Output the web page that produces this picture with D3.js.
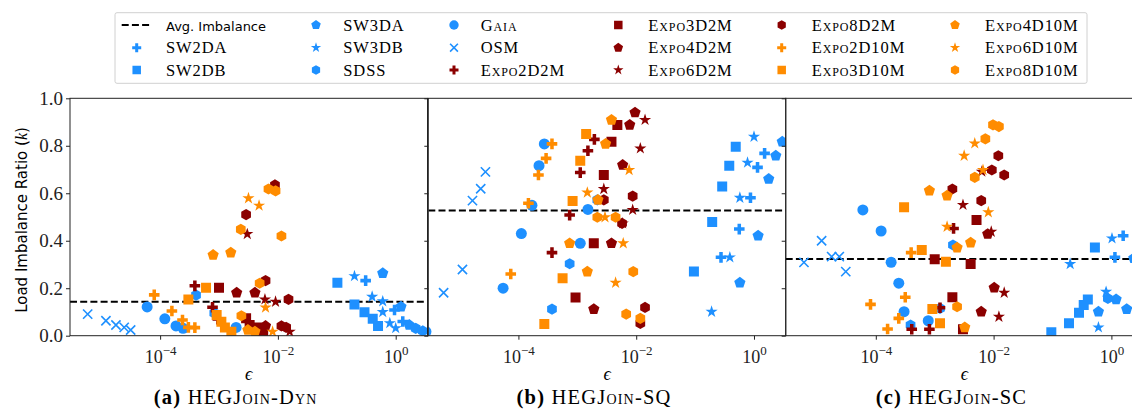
<!DOCTYPE html>
<html>
<head>
<meta charset="utf-8">
<script src="https://cdn.jsdelivr.net/npm/d3@7"></script>
<style>
  body { margin: 0; background: #fff; }
  svg { display: block; }
  .serif { font-family: "Liberation Serif", "DejaVu Serif", serif; }
  .sans { font-family: "DejaVu Sans", "Liberation Sans", sans-serif; }
  .sc { font-variant: small-caps; }
</style>
</head>
<body>
<div id="chart"></div>
<script>
// values: [log10(epsilon), k] per panel (a, b, c)
var SW2DA = [
  [[-0.51,0.232],[-0.02,0.108],[0.12,0.06]],
  [[-0.56,0.33],[-0.25,0.449],[-0.06,0.581],[0.06,0.709],[0.18,0.768]],
  [[0.06,0.33],[0.20,0.421]]
];
var SW2DB = [
  [[-0.99,0.223],[-0.70,0.131],[-0.53,0.099],[-0.39,0.071],[-0.30,0.041]],
  [[-1.02,0.27],[-0.71,0.479],[-0.54,0.629],[-0.42,0.716],[-0.31,0.796]],
  [[-1.02,0.015],[-0.72,0.052],[-0.55,0.097],[-0.47,0.129],[-0.40,0.153],[-0.28,0.371]]
];
var SW3DA = [
  [[-0.22,0.263],[0.09,0.122],[0.23,0.045]],
  [[-0.24,0.223],[0.07,0.421],[0.25,0.66],[0.37,0.758],[0.48,0.817]],
  [[-0.22,0.101],[0.08,0.153],[0.26,0.112],[0.38,0.326]]
];
var SW3DB = [
  [[-0.70,0.251],[-0.40,0.164],[-0.22,0.145],[-0.22,0.10],[-0.10,0.053],[0.0,0.032]],
  [[-0.72,0.101],[-0.41,0.33],[-0.24,0.581],[-0.11,0.729],[0.0,0.838]],
  [[-0.70,0.302],[-0.22,0.035],[-0.09,0.185],[0.01,0.41]]
];
var SDSS = [
  [[-3.39,0.171],[-3.08,0.095],[0.34,0.031],[0.46,0.02]],
  [[-3.43,0.112],[-3.13,0.303],[-2.66,0.572]],
  [[-3.41,0.045],[-2.91,0.115],[-2.69,0.382],[-0.06,0.157]]
];
var Gaia = [
  [[-4.22,0.121],[-3.92,0.071],[-3.73,0.041],[-3.61,0.031],[-2.71,0.035]],
  [[-5.57,0.017],[-4.26,0.20],[-3.95,0.43],[-3.77,0.549],[-3.65,0.716],[-3.56,0.808],[-2.95,0.389],[-2.82,0.532]],
  [[-4.22,0.53],[-3.91,0.441],[-3.74,0.309],[-3.61,0.221],[-3.52,0.101],[-3.11,0.063]]
];
var OSM = [
  [[-5.23,0.091],[-4.92,0.063],[-4.75,0.045],[-4.61,0.035],[-4.50,0.024]],
  [[-5.27,0.181],[-4.95,0.279],[-4.78,0.569],[-4.64,0.619],[-4.56,0.69]],
  [[-5.22,0.309],[-4.92,0.40],[-4.75,0.333],[-4.62,0.333],[-4.51,0.27]]
];
var Expo2D2M = [
  [[-3.41,0.21],[-3.11,0.12],[-3.02,0.07]],
  [[-3.43,0.35],[-3.13,0.508],[-2.95,0.687],[-2.82,0.779],[-2.71,0.827]],
  [[-3.39,0.027],[-3.09,0.027],[-2.91,0.118],[-2.68,0.452]]
];
var Expo3D2M = [
  [[-3.0,0.202],[-2.54,0.073],[-2.48,0.045],[-2.34,0.035],[-2.25,0.017]],
  [[-3.03,0.161],[-2.72,0.389],[-2.55,0.677],[-2.42,0.817],[-2.32,0.888]],
  [[-3.0,0.322],[-2.70,0.162],[-2.52,0.027],[-2.39,0.302],[-2.29,0.487]]
];
var Expo4D2M = [
  [[-2.70,0.181],[-2.39,0.181],[-2.21,0.041]],
  [[-2.72,0.112],[-2.42,0.389],[-2.23,0.719],[-2.11,0.888],[-2.02,0.94]],
  [[-2.21,0.101],[-1.99,0.202],[-2.10,0.428]]
];
var Expo6D2M = [
  [[-2.52,0.428],[-2.22,0.153],[-2.04,0.143],[-1.80,0.017]],
  [[-2.55,0.618],[-2.23,0.473],[-2.06,0.53],[-1.93,0.789],[-1.85,0.909]],
  [[-2.52,0.551],[-2.04,0.438],[-1.82,0.181],[-1.91,0.08],[-2.20,0.691]]
];
var Expo8D2M = [
  [[-2.54,0.51],[-2.05,0.635],[-2.21,0.232],[-1.82,0.153],[-1.94,0.041],[-1.86,0.035]],
  [[-2.55,0.572],[-2.24,0.473],[-2.06,0.588],[-1.93,0.052],[-1.85,0.119]],
  [[-2.70,0.618],[-2.21,0.569],[-2.03,0.698],[-1.92,0.758],[-1.82,0.677]]
];
var Expo2D10M = [
  [[-4.10,0.172],[-3.80,0.104],[-3.62,0.066],[-3.52,0.035],[-3.41,0.034]],
  [[-4.13,0.26],[-3.83,0.558],[-3.66,0.677],[-3.53,0.747],[-3.43,0.808]],
  [[-4.09,0.132],[-3.80,0.028],[-3.61,0.073],[-3.50,0.162],[-3.40,0.35]]
];
var Expo3D10M = [
  [[-3.52,0.153],[-3.22,0.202],[-3.04,0.087],[-2.96,0.059],[-2.90,0.035],[-2.79,0.017]],
  [[-3.56,0.049],[-3.25,0.242],[-3.08,0.567],[-2.95,0.737],[-2.85,0.85]],
  [[-3.52,0.541],[-3.22,0.361],[-3.04,0.112],[-2.91,0.052],[-2.81,0.312]]
];
var Expo4D10M = [
  [[-3.10,0.34],[-2.80,0.35],[-2.51,0.024],[-2.39,0.017]],
  [[-3.13,0.389],[-2.83,0.27],[-2.65,0.572],[-2.52,0.808],[-2.42,0.909]],
  [[-3.09,0.611],[-2.79,0.59],[-2.62,0.371],[-2.39,0.392],[-2.49,0.035]]
];
var Expo6D10M = [
  [[-2.50,0.579],[-2.32,0.548],[-2.21,0.119],[-2.09,0.017]],
  [[-2.83,0.603],[-2.53,0.499],[-2.35,0.223],[-2.22,0.389],[-2.12,0.698]],
  [[-2.79,0.459],[-2.50,0.758],[-2.32,0.81],[-2.18,0.698],[-2.09,0.52]]
];
var Expo8D10M = [
  [[-2.63,0.448],[-2.16,0.618],[-2.04,0.61],[-1.94,0.42],[-2.31,0.221],[-2.62,0.084]],
  [[-2.66,0.499],[-2.35,0.499],[-2.17,0.091],[-2.05,0.27],[-1.93,0.073]],
  [[-2.62,0.122],[-2.32,0.667],[-2.14,0.829],[-2.01,0.888],[-1.91,0.881]]
];
var avgImbalance = [0.143, 0.527, 0.323];
var panelCaps = [["(a)", " HEGJoin-Dyn"], ["(b)", " HEGJoin-SQ"], ["(c)", " HEGJoin-SC"]];
var yTicks = [0, 0.2, 0.4, 0.6, 0.8, 1.0];
var xTicks = [-4, -2, 0];

var blue = "#1e90ff", red = "#8b0000", orange = "#ff8c00";
var series = [
  {name: "SW2DA", data: SW2DA, shape: "plus", color: blue},
  {name: "SW2DB", data: SW2DB, shape: "square", color: blue},
  {name: "SW3DA", data: SW3DA, shape: "pentagon", color: blue},
  {name: "SW3DB", data: SW3DB, shape: "star", color: blue},
  {name: "SDSS", data: SDSS, shape: "hexagon", color: blue},
  {name: "Gaia", data: Gaia, shape: "circle", color: blue, sc: true},
  {name: "OSM", data: OSM, shape: "x", color: blue},
  {name: "Expo2D2M", data: Expo2D2M, shape: "plus", color: red, sc: true},
  {name: "Expo3D2M", data: Expo3D2M, shape: "square", color: red, sc: true},
  {name: "Expo4D2M", data: Expo4D2M, shape: "pentagon", color: red, sc: true},
  {name: "Expo6D2M", data: Expo6D2M, shape: "star", color: red, sc: true},
  {name: "Expo8D2M", data: Expo8D2M, shape: "hexagon", color: red, sc: true},
  {name: "Expo2D10M", data: Expo2D10M, shape: "plus", color: orange, sc: true},
  {name: "Expo3D10M", data: Expo3D10M, shape: "square", color: orange, sc: true},
  {name: "Expo4D10M", data: Expo4D10M, shape: "pentagon", color: orange, sc: true},
  {name: "Expo6D10M", data: Expo6D10M, shape: "star", color: orange, sc: true},
  {name: "Expo8D10M", data: Expo8D10M, shape: "hexagon", color: orange, sc: true}
];

//marker outlines, s is a scale factor
function poly(n, r, rot) {
  var pts = [];
  for (var i = 0; i < n; i++) {
    var a = rot + i * 2 * Math.PI / n;
    pts.push([r * Math.cos(a), r * Math.sin(a)]);
  }
  return "M" + pts.join("L") + "Z";
}
function markerPath(shape, s) {
  if (shape === "circle") return d3.symbol(d3.symbolCircle, Math.PI * Math.pow(5.5 * s, 2))();
  if (shape === "square") { var h = 5 * s; return "M" + [[-h,-h],[h,-h],[h,h],[-h,h]].join("L") + "Z"; }
  if (shape === "pentagon") return poly(5, 5.9 * s, -Math.PI / 2);
  if (shape === "hexagon") return poly(6, 5.6 * s, -Math.PI / 2);
  if (shape === "star") {
    var pts = [], R = 6.4 * s, r = R * 0.382;
    for (var i = 0; i < 10; i++) {
      var a = -Math.PI / 2 + i * Math.PI / 5, rr = i % 2 ? r : R;
      pts.push([rr * Math.cos(a), rr * Math.sin(a)]);
    }
    return "M" + pts.join("L") + "Z";
  }
  if (shape === "plus") {
    var o = 5.3 * s, q = o / 3;
    return "M" + [[-q,-o],[q,-o],[q,-q],[o,-q],[o,q],[q,q],[q,o],[-q,o],[-q,q],[-o,q],[-o,-q],[-q,-q]].join("L") + "Z";
  }
  var k = 4.6 * s;
  return "M" + [-k,-k] + "L" + [k,k] + "M" + [-k,k] + "L" + [k,-k];
}
function drawMarker(g, shape, color, s, px, py) {
  var p = g.append("path").attr("d", markerPath(shape, s))
    .attr("transform", "translate(" + px + "," + py + ")");
  if (shape === "x") p.attr("fill", "none").attr("stroke", color).attr("stroke-width", 1.6);
  else p.attr("fill", color);
}

var W = 1132, H = 411;
var panelLeft = [70, 428.3, 785.7], panelW = 357.5, plotTop = 98.3, plotBottom = 335.7;

var svg = d3.select("#chart").append("svg").attr("width", W).attr("height", H);

var x = d3.scaleLog().domain([Math.pow(10, -5.53), Math.pow(10, 0.54)]).range([0, panelW]);
var y = d3.scaleLinear().domain([0, 1]).range([plotBottom, plotTop]);

panelLeft.forEach(function(left, p) {
  var g = svg.append("g").attr("transform", "translate(" + left + ",0)");
  g.append("clipPath").attr("id", "clip" + p).append("rect")
    .attr("x", 0).attr("y", plotTop).attr("width", panelW).attr("height", plotBottom - plotTop);
  var plot = g.append("g").attr("clip-path", "url(#clip" + p + ")");

  //average line
  plot.append("line").attr("x1", 0).attr("x2", panelW)
    .attr("y1", y(avgImbalance[p])).attr("y2", y(avgImbalance[p]))
    .attr("stroke", "#000").attr("stroke-width", 2).attr("stroke-dasharray", "7,3.2");

  series.forEach(function(s) {
    s.data[p].forEach(function(d) {
      drawMarker(plot, s.shape, s.color, 1, x(Math.pow(10, d[0])), y(d[1]));
    });
  });

  //frame
  g.append("rect").attr("x", 0).attr("y", plotTop).attr("width", panelW).attr("height", plotBottom - plotTop)
    .attr("fill", "none").attr("stroke", "#222").attr("stroke-width", 1);

  //axes
  var yAxis = d3.axisLeft(y).tickValues(yTicks).tickSize(4).tickFormat(p === 0 ? d3.format(".1f") : "");
  var ya = g.append("g").call(yAxis);
  ya.select(".domain").remove();
  ya.selectAll("line").attr("stroke", "#222");
  ya.selectAll("text").attr("class", "serif").attr("font-size", 19).attr("fill", "#222").attr("x", -7);

  var xAxis = d3.axisBottom(x).tickValues(xTicks.map(function(e) { return Math.pow(10, e); })).tickSize(4).tickFormat("");
  var xa = g.append("g").attr("transform", "translate(0," + plotBottom + ")").call(xAxis);
  xa.select(".domain").remove();
  xa.selectAll("line").attr("stroke", "#222");
  xa.selectAll(".tick").each(function(d, i) {
    var t = d3.select(this).append("text").attr("class", "serif").attr("fill", "#222")
      .attr("y", 27).attr("text-anchor", "middle").attr("font-size", 18);
    t.append("tspan").text("10");
    t.append("tspan").attr("dy", -8).attr("font-size", 13)
      .text(xTicks[i] === 0 ? "0" : "\u2212" + Math.abs(xTicks[i]));
  });

  //epsilon label and caption
  g.append("text").attr("class", "serif").attr("x", panelW / 2).attr("y", 380)
    .attr("text-anchor", "middle").attr("font-size", 18).attr("font-style", "italic").text("\u03f5");
  var cap = g.append("text").attr("class", "serif").attr("x", panelW / 2 - 13).attr("y", 404)
    .attr("text-anchor", "middle").attr("font-size", 20.5).attr("letter-spacing", 1.2);
  cap.append("tspan").attr("font-weight", "bold").text(panelCaps[p][0]);
  cap.append("tspan").attr("class", "sc").text(panelCaps[p][1]);
});

//y label
var yl = svg.append("text").attr("class", "sans").attr("font-size", 15)
  .attr("transform", "translate(27,220) rotate(-90)")
  .attr("text-anchor", "middle");
yl.append("tspan").text("Load Imbalance Ratio (");
yl.append("tspan").attr("class", "serif").attr("font-style", "italic").attr("font-size", 16).text("k");
yl.append("tspan").text(")");

//legend
var colHandle = [136.7, 316, 454, 618.3, 781.7, 955];
var colText = [166, 343.3, 480.7, 648.3, 811.7, 985];
var rowY = [25, 47.7, 70];
var leg = svg.append("g");
leg.append("rect").attr("x", 115).attr("y", 12.7).attr("width", 972).attr("height", 70.6)
  .attr("rx", 2).attr("fill", "#fff").attr("stroke", "#d0d0d0").attr("stroke-width", 1);
var entries = [{name: "Avg. Imbalance", dash: true}].concat(series);
entries.forEach(function(e, i) {
  var c = Math.floor(i / 3), r = i % 3;
  if (e.dash) {
    leg.append("line").attr("x1", colHandle[c] - 15).attr("x2", colHandle[c] + 15)
      .attr("y1", rowY[r]).attr("y2", rowY[r]).attr("stroke", "#000").attr("stroke-width", 2)
      .attr("stroke-dasharray", "7,3.2");
  } else {
    drawMarker(leg, e.shape, e.color, 0.85, colHandle[c], rowY[r]);
  }
  var t = leg.append("text").attr("class", e.dash ? "sans" : (e.sc ? "serif sc" : "serif"))
    .attr("x", colText[c]).attr("y", rowY[r] + 5.5).text(e.name);
  if (e.dash) t.attr("font-size", 13);
  else t.attr("font-size", 16.5).attr("letter-spacing", 0.9);
});
</script>
</body>
</html>
